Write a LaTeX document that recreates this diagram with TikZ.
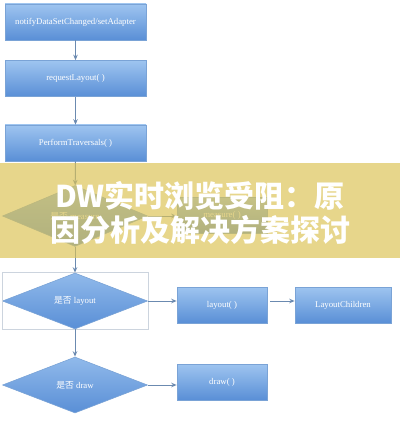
\documentclass[tikz,border=0pt]{standalone}
\usepackage{fontspec}
\setmainfont{Liberation Serif}
\newfontfamily\cjk{Noto Sans CJK SC}
\usetikzlibrary{arrows.meta,calc,shapes.geometric}
\definecolor{BoxTop}{rgb}{0.62,0.77,0.94}
\definecolor{BoxBot}{rgb}{0.35,0.56,0.84}
\definecolor{BoxLine}{rgb}{0.48,0.64,0.84}
\definecolor{ArrowClr}{rgb}{0.42,0.54,0.69}
\definecolor{FrameClr}{rgb}{0.80,0.83,0.87}
\definecolor{BannerClr}{rgb}{0.86,0.76,0.33}

\begin{document}
\begin{tikzpicture}[x=1pt,y=-1pt,
  box/.style={rectangle,draw=BoxLine,line width=.6pt,top color=BoxTop,bottom color=BoxBot,
    text=white,font=\fontsize{8.8}{10}\selectfont,minimum height=36pt,inner sep=1pt},
  decide/.style={diamond,draw=BoxLine,line width=.6pt,top color=BoxTop!80!BoxBot,bottom color=BoxBot,
    text=white,font=\fontsize{8.8}{10}\selectfont,minimum width=145pt,minimum height=56pt,inner sep=1pt},
  flow/.style={draw=ArrowClr,line width=1pt,-{Stealth[length=5.5pt,width=4.5pt]}}]
\useasboundingbox (0,0) rectangle (400,422);

% main column
\node[box,minimum width=141pt] (notify) at (75.5,22) {notifyDataSetChanged/setAdapter};
\node[box,minimum width=141pt] (request) at (75.5,78.5) {requestLayout( )};
\node[box,minimum width=141pt] (perform) at (75.5,143) {PerformTraversals( )};
\node[decide] (ismeasure) at (75,216) {{\cjk 是否} measure};
\node[decide] (islayout) at (75,301) {{\cjk 是否} layout};
\node[decide] (isdraw) at (75,385) {{\cjk 是否} draw};

% right side
\node[box,minimum width=90pt] (measure) at (222,215) {measure( )};
\node[box,minimum width=90pt] (layout) at (222,305) {layout( )};
\node[box,minimum width=96pt] (children) at (343,305) {LayoutChildren};
\node[box,minimum width=90pt] (draw) at (222,382) {draw( )};

\draw[FrameClr,line width=.6pt] (islayout.west |- islayout.north) rectangle (islayout.east |- islayout.south);

\draw[flow] (notify) -- (request);
\draw[flow] (request) -- (perform);
\draw[flow] (perform) -- (ismeasure);
\draw[flow] (ismeasure) -- (islayout);
\draw[flow] (islayout) -- (isdraw);
\draw[flow] (ismeasure.east) -- (ismeasure.east -| measure.west);
\draw[flow] (islayout.east) -- (islayout.east -| layout.west);
\draw[flow,shorten <=3pt] (layout.east |- islayout.east) -- (children.west |- islayout.east);
\draw[flow] (isdraw.east) -- (isdraw.east -| draw.west);

% banner
\node[fill=BannerClr,fill opacity=.68,minimum width=400pt,minimum height=95pt,inner sep=0] (banner) at (200,210.5) {};
\node[text=white,align=center,font=\cjk\bfseries\fontsize{30}{34}\selectfont] (title) at (200,212.5)
  {DW实时浏览受阻：原\\因分析及解决方案探讨};
\end{tikzpicture}
\end{document}
